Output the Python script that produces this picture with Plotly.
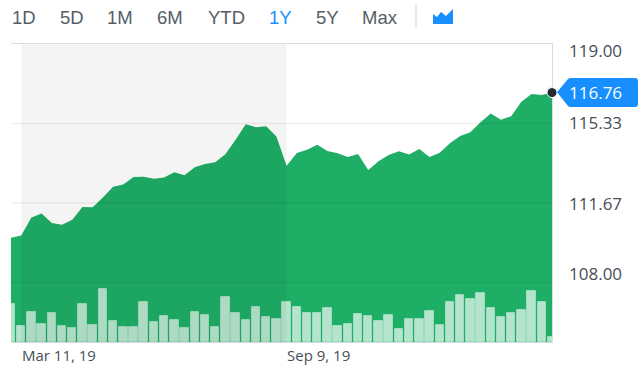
import pandas as pd
import plotly.graph_objects as go

W, H = 643, 369
dates = [d.strftime("%Y-%m-%d") for d in pd.date_range("2019-03-04", periods=54, freq="7D")]
prices = [110.07,110.17,111.00,111.18,110.75,110.67,110.90,111.49,111.47,111.92,
          112.42,112.52,112.87,112.88,112.79,112.84,113.09,112.95,113.32,113.47,
          113.55,113.92,114.58,115.30,115.16,115.21,114.73,113.39,113.98,114.12,
          114.36,114.07,113.96,113.79,113.93,113.19,113.59,113.88,114.06,113.90,
          114.16,113.79,113.99,114.42,114.76,114.93,115.39,115.79,115.51,115.67,
          116.34,116.70,116.65,116.76]
volumes = [115,49,89,54,87,49,42,115,52,158,64,46,46,119,60,78,66,42,91,82,
           45,134,88,67,106,74,70,119,106,86,88,103,47,53,85,77,62,80,39,70,
           70,93,52,119,140,130,148,102,75,86,95,154,121,16]
y_ticks = [119.00, 115.33, 111.67, 108.00]
y_tick_labels = ["119.00", "115.33", "111.67", "108.00"]
y_label_px = [51, 123, 203, 273]
x_labels = ["Mar 11, 19", "Sep 9, 19"]
x_label_dates = ["2019-03-11", "2019-09-09"]
range_buttons = ["1D", "5D", "1M", "6M", "YTD", "1Y", "5Y", "Max"]
button_px = [10, 58, 105, 155, 206, 267, 314, 360]
last_label = "116.76"

px = lambda v: v / W
py = lambda v: 1 - v / H
GREY = "#555d66"
BLUE = "#188fff"

fig = go.Figure()
fig.add_trace(go.Scatter(x=dates, y=prices, mode="lines", line=dict(width=0),
                         fill="tozeroy", fillcolor="#1eae66", hoverinfo="skip"))
fig.add_trace(go.Bar(x=dates, y=volumes, yaxis="y2", width=500000000,
                     marker=dict(color="rgba(255,255,255,0.67)",
                                 line=dict(color="rgba(255,255,255,0.35)", width=1)),
                     hoverinfo="skip"))
fig.add_trace(go.Scatter(x=dates[-1:], y=prices[-1:], mode="markers", cliponaxis=False,
                         marker=dict(size=10, color="#232a31", line=dict(color="white", width=1)),
                         hoverinfo="skip"))

shapes = []
for t in y_ticks[1:]:
    shapes.append(dict(type="line", xref="x", yref="y", x0=dates[0], x1=dates[-1], y0=t, y1=t,
                       line=dict(color="rgba(0,0,0,0.06)", width=1.5), layer="above"))
shapes.append(dict(type="rect", xref="x", yref="y domain", x0=x_label_dates[0], x1=x_label_dates[1],
                   y0=0, y1=1, fillcolor="rgba(0,0,0,0.045)", line_width=0, layer="above"))
shapes.append(dict(type="line", xref="paper", yref="paper", x0=px(416), x1=px(416), y0=py(4), y1=py(28),
                   line=dict(color="#dfe1e6", width=1.5)))


def pth(points):
    return "M" + " L".join(f"{px(a):.5f},{py(b):.5f}" for a, b in points) + " Z"


def q(x, y):
    return f"{px(x):.5f},{py(y):.5f}"


pill = ("M" + q(557, 92.3) + " L" + q(568, 79) + " Q" + q(569, 78) + " " + q(571, 78) +
        " L" + q(635, 78) + " Q" + q(638, 78) + " " + q(638, 81) +
        " L" + q(638, 104) + " Q" + q(638, 107) + " " + q(635, 107) +
        " L" + q(571, 107) + " Q" + q(569, 107) + " " + q(568, 106) + " Z")
shapes.append(dict(type="path", xref="paper", yref="paper", path=pill, fillcolor=BLUE, line_width=0))
icon = pth([(433, 14), (437, 17), (441, 12), (446, 16), (453, 9), (453, 24), (433, 24)])
shapes.append(dict(type="path", xref="paper", yref="paper", path=icon, fillcolor=BLUE, line_width=0))

ann = []
for txt, x in zip(range_buttons, button_px):
    ann.append(dict(text=txt, xref="paper", yref="paper", x=px(x), y=py(17), xanchor="left", yanchor="middle",
                    showarrow=False,
                    font=dict(family="Liberation Sans", size=18.5, color=BLUE if txt == "1Y" else GREY)))
for txt, y in zip(y_tick_labels, y_label_px):
    ann.append(dict(text=txt, xref="paper", yref="paper", x=px(566.5), y=py(y), xanchor="left", yanchor="middle",
                    showarrow=False, font=dict(family="Open Sans", size=17, color="#464e56")))
ann.append(dict(text=last_label, xref="paper", yref="paper", x=px(566.5), y=py(92.5), xanchor="left", yanchor="middle",
                showarrow=False, font=dict(family="Open Sans", size=17, color="white")))
for txt, d in zip(x_labels, x_label_dates):
    ann.append(dict(text=txt, xref="x", yref="paper", x=d, y=py(355), xanchor="left", yanchor="middle",
                    showarrow=False, xshift=-1.5, font=dict(family="Open Sans", size=15, color="#464e56")))

fig.update_layout(
    width=W, height=H, autosize=False, showlegend=False, bargap=0,
    margin=dict(l=0, r=0, t=0, b=0), paper_bgcolor="white", plot_bgcolor="white",
    xaxis=dict(type="date", domain=[px(11), px(552)], range=[dates[0], dates[-1]],
               showgrid=False, zeroline=False, showticklabels=False, ticks="", layer="below traces",
               showline=True, mirror=True, linecolor="#d9dbe6", linewidth=1),
    yaxis=dict(domain=[py(342), py(44)], range=[105.26, 119.0], side="right", tickvals=y_ticks,
               showgrid=False, zeroline=False, showticklabels=False, ticks="", layer="below traces",
               showline=True, linecolor="#d9dbe6", linewidth=1),
    yaxis2=dict(domain=[py(342), py(44)], range=[0, 894], overlaying="y", visible=False),
    shapes=shapes, annotations=ann,
)
fig.write_html("out.html", config=dict(displayModeBar=False),
               post_script="document.body.style.margin='0';document.body.style.overflow='hidden';")
